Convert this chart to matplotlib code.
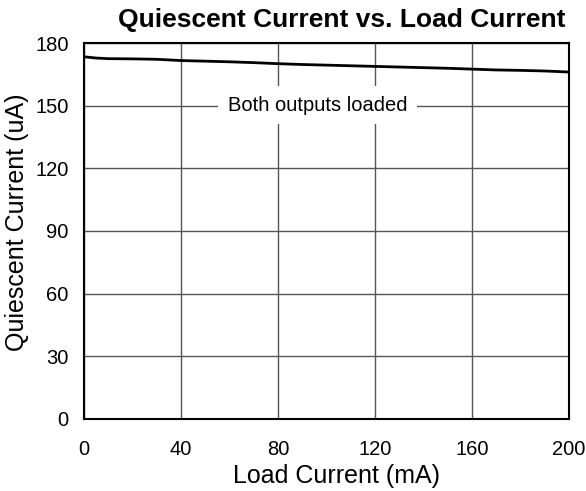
import matplotlib
matplotlib.use("Agg")
import matplotlib.pyplot as plt

plt.rcParams['font.family'] = ['Liberation Sans', 'DejaVu Sans']

# Load current (mA) vs quiescent current (uA)
load_ma = [0, 5, 10, 20, 30, 40, 50, 60, 70, 80, 90, 100, 110, 120, 130, 140, 150, 160, 170, 180, 190, 200]
iq_ua = [173.4, 172.8, 172.5, 172.4, 172.2, 171.6, 171.3, 171.0, 170.6, 170.1, 169.7, 169.4, 169.1, 168.8, 168.5, 168.2, 167.9, 167.5, 167.1, 166.9, 166.6, 166.1]

x_ticks = [0, 40, 80, 120, 160, 200]
y_ticks = [0, 30, 60, 90, 120, 150, 180]

W, H = 586, 491
fig = plt.figure(figsize=(W / 100, H / 100), dpi=100)
ax = fig.add_axes([84 / W, 72 / H, 485 / W, 376 / H])

ax.plot(load_ma, iq_ua, color='black', lw=2)

ax.set_xlim(0, 200)
ax.set_ylim(0, 180)
ax.set_xticks(x_ticks)
ax.set_yticks(y_ticks)
ax.grid(True, color='#555555', lw=1)
ax.tick_params(length=0, labelsize=14.5)
ax.tick_params(axis='x', pad=15)
ax.tick_params(axis='y', pad=11)
for s in ax.spines.values():
    s.set_linewidth(1.5)

ax.text(96.3, 150.3, 'Both outputs loaded', ha='center', va='center', fontsize=14.5,
        bbox=dict(facecolor='white', edgecolor='none', pad=7))

# axis labels and title placed in figure pixels
fig.text(336.5 / W, 1 - 483 / H, 'Load Current (mA)', fontsize=18, ha='center', va='baseline')
fig.text(17 / W, 1 - 222 / H, 'Quiescent Current (uA)', fontsize=18, rotation=90,
         ha='center', va='center')
fig.text(342 / W, 1 - 27 / H, 'Quiescent Current vs. Load Current', fontsize=19,
         fontweight='bold', ha='center', va='baseline')

fig.savefig('out.png', dpi=100)
